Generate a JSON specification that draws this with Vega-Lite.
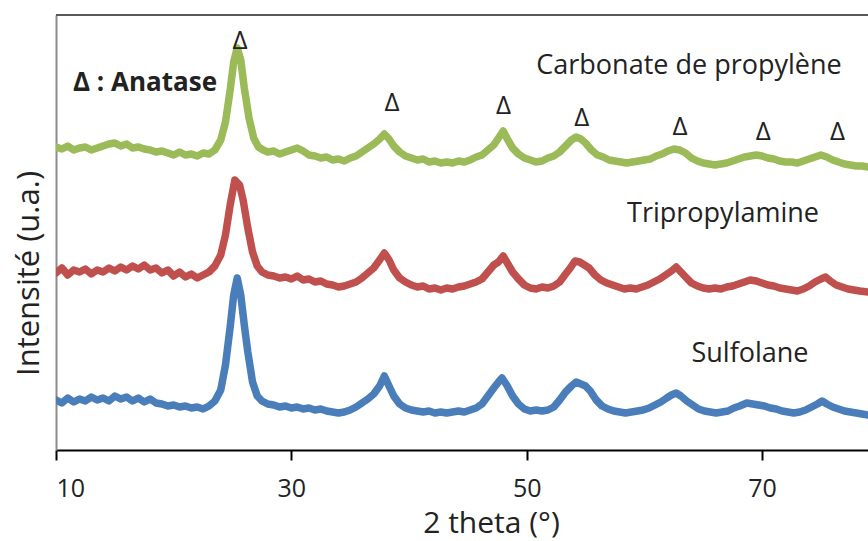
{
"$schema":"https://vega.github.io/schema/vega-lite/v6.json",
"width":812,"height":435,
"autosize":{"type":"none"},
"padding":{"left":56,"top":15,"right":0,"bottom":91},
"config":{"view":{"stroke":null},"font":"Open Sans","axis":{"grid":false}},
"datasets":{
"g":[[10,303],[10.5,301],[11,304],[11.5,300],[12,302],[12.5,303],[13,300],[13.5,302],[14,304],[14.5,306],[15,307],[15.5,304],[16,306],[16.5,302],[17,303],[17.5,301],[18,300],[18.5,298],[19,299],[19.5,297],[20,295],[20.5,298],[21,295],[21.5,296],[22,294],[22.5,297],[23,296],[23.5,300],[24,310],[24.4,328],[24.8,360],[25.1,388],[25.4,402],[25.7,390],[26,362],[26.4,332],[26.8,312],[27.2,303],[27.6,300],[28,298],[28.5,299],[29,296],[29.5,298],[30,300],[30.5,302],[31,299],[31.5,295],[32,294],[32.5,292],[33,293],[33.5,290],[34,291],[34.5,289],[35,292],[35.5,294],[36,298],[36.5,302],[37,306],[37.5,311],[37.9,316],[38.3,311],[38.7,304],[39.2,298],[39.7,294],[40.2,292],[40.7,290],[41.2,291],[41.7,288],[42.2,289],[42.7,287],[43.2,288],[43.7,287],[44.2,289],[44.7,288],[45.2,290],[45.7,293],[46.2,295],[46.7,300],[47.2,305],[47.6,312],[48,319],[48.4,310],[48.8,302],[49.3,296],[49.8,292],[50.3,290],[50.8,288],[51.3,289],[51.8,292],[52.3,294],[52.8,298],[53.3,304],[53.8,310],[54.2,313],[54.6,311],[55,307],[55.5,300],[56,295],[56.5,293],[57,290],[57.5,289],[58,288],[58.5,287],[59,288],[59.5,289],[60,290],[60.5,291],[61,294],[61.5,296],[62,299],[62.5,301],[63,300],[63.5,297],[64,292],[64.5,289],[65,287],[65.5,286],[66,285],[66.5,286],[67,287],[67.5,289],[68,291],[68.5,293],[69,294],[69.5,295],[70,294],[70.5,292],[71,291],[71.5,289],[72,288],[72.5,288],[73,287],[73.5,289],[74,291],[74.5,293],[75,295],[75.5,293],[76,290],[76.5,288],[77,286],[77.5,285],[78,284],[78.5,284],[79,283]],
"r":[[10,177],[10.5,182],[11,175],[11.5,180],[12,178],[12.5,181],[13,176],[13.5,180],[14,178],[14.5,182],[15,179],[15.5,183],[16,180],[16.5,184],[17,181],[17.5,185],[18,180],[18.5,182],[19,177],[19.5,180],[20,174],[20.5,178],[21,173],[21.5,176],[22,172],[22.5,175],[23,178],[23.5,184],[24,195],[24.4,215],[24.8,245],[25.2,270],[25.6,265],[25.9,250],[26.3,222],[26.7,198],[27.1,184],[27.5,178],[28,175],[28.5,174],[29,172],[29.5,173],[30,171],[30.5,174],[31,170],[31.5,171],[32,168],[32.5,169],[33,166],[33.5,165],[34,163],[34.5,164],[35,166],[35.5,168],[36,172],[36.5,177],[37,182],[37.5,190],[37.9,197],[38.3,190],[38.7,180],[39.2,172],[39.7,168],[40.2,165],[40.7,163],[41.2,164],[41.7,161],[42.2,162],[42.7,160],[43.2,162],[43.7,161],[44.2,163],[44.7,164],[45.2,166],[45.7,168],[46.2,171],[46.7,178],[47.2,185],[47.6,188],[48,194],[48.4,186],[48.8,178],[49.3,171],[49.8,165],[50.3,162],[50.8,161],[51.3,163],[51.8,162],[52.3,164],[52.8,168],[53.3,176],[53.7,182],[54.1,189],[54.5,188],[54.9,185],[55.3,182],[55.8,175],[56.3,170],[56.8,167],[57.3,165],[57.8,163],[58.3,161],[58.8,162],[59.3,161],[59.8,163],[60.3,165],[60.8,168],[61.3,171],[61.8,175],[62.3,179],[62.7,183],[63.1,178],[63.5,173],[64,167],[64.5,164],[65,162],[65.5,161],[66,162],[66.5,161],[67,163],[67.5,164],[68,166],[68.5,168],[69,170],[69.5,169],[70,167],[70.5,165],[71,164],[71.5,162],[72,161],[72.5,160],[73,159],[73.5,161],[74,164],[74.5,168],[75,171],[75.4,173],[75.8,169],[76.3,165],[76.8,163],[77.3,161],[77.8,160],[78.3,159],[79,158]],
"b":[[10,50],[10.5,47],[11,52],[11.5,48],[12,51],[12.5,49],[13,53],[13.5,50],[14,52],[14.5,49],[15,54],[15.5,51],[16,53],[16.5,49],[17,52],[17.5,48],[18,51],[18.5,47],[19,46],[19.5,44],[20,45],[20.5,43],[21,44],[21.5,42],[22,43],[22.5,41],[23,44],[23.5,49],[24,60],[24.4,85],[24.8,123],[25.1,155],[25.4,172],[25.7,155],[26,125],[26.3,98],[26.7,68],[27.1,54],[27.5,49],[28,46],[28.5,45],[29,43],[29.5,44],[30,42],[30.5,43],[31,41],[31.5,42],[32,40],[32.5,41],[33,39],[33.5,38],[34,37],[34.5,38],[35,40],[35.5,43],[36,47],[36.5,51],[37,56],[37.5,64],[37.9,74],[38.3,64],[38.7,54],[39.2,46],[39.7,42],[40.2,40],[40.7,39],[41.2,38],[41.7,39],[42.2,37],[42.7,38],[43.2,37],[43.7,38],[44.2,39],[44.7,38],[45.2,40],[45.7,42],[46.2,46],[46.7,54],[47.2,62],[47.6,68],[47.9,72],[48.3,65],[48.8,54],[49.3,46],[49.8,41],[50.3,39],[50.8,40],[51.3,39],[51.8,40],[52.3,43],[52.8,50],[53.3,58],[53.8,64],[54.2,68],[54.6,66],[55,64],[55.4,59],[55.9,50],[56.4,44],[56.9,41],[57.4,39],[57.9,38],[58.4,37],[58.9,38],[59.4,39],[59.9,40],[60.4,42],[60.9,45],[61.4,48],[61.9,52],[62.3,55],[62.7,57],[63.1,54],[63.6,49],[64.1,45],[64.6,41],[65.1,39],[65.6,38],[66.1,37],[66.6,38],[67.1,39],[67.6,42],[68.1,44],[68.7,47],[69.2,46],[69.7,45],[70.2,44],[70.7,42],[71.2,41],[71.7,39],[72.2,38],[72.7,37],[73.2,38],[73.7,40],[74.2,43],[74.7,46],[75.1,49],[75.5,46],[76,43],[76.5,41],[77,39],[77.5,38],[78,37],[78.5,36],[79,35]]
},
"layer":[
{"data":{"values":[{"y":435}]},"mark":{"type":"rule","color":"#595959","strokeWidth":2},"encoding":{"y":{"field":"y","type":"quantitative","scale":{"domain":[0,435]}}}},
{"data":{"name":"g"},"transform":[{"calculate":"'Carbonate de propylène'","as":"s"},{"calculate":"datum[0]","as":"x"},{"calculate":"datum[1]","as":"y"}],
 "mark":{"type":"line","strokeWidth":7.5,"clip":true,"strokeJoin":"round","strokeCap":"round"},
 "encoding":{"x":{"field":"x","type":"quantitative"},"y":{"field":"y","type":"quantitative"},"color":{"field":"s","type":"nominal","scale":{"domain":["Carbonate de propylène","Tripropylamine","Sulfolane"],"range":["#9BBB59","#C0504D","#4A7EBB"]},"legend":null}}},
{"data":{"name":"r"},"transform":[{"calculate":"'Tripropylamine'","as":"s"},{"calculate":"datum[0]","as":"x"},{"calculate":"datum[1]","as":"y"}],
 "mark":{"type":"line","strokeWidth":7.5,"clip":true,"strokeJoin":"round","strokeCap":"round"},
 "encoding":{"x":{"field":"x","type":"quantitative"},"y":{"field":"y","type":"quantitative"},"color":{"field":"s","type":"nominal","legend":null}}},
{"data":{"name":"b"},"transform":[{"calculate":"'Sulfolane'","as":"s"},{"calculate":"datum[0]","as":"x"},{"calculate":"datum[1]","as":"y"}],
 "mark":{"type":"line","strokeWidth":7.5,"clip":true,"strokeJoin":"round","strokeCap":"round"},
 "encoding":{"x":{"field":"x","type":"quantitative","scale":{"domain":[10,79],"nice":false,"zero":false},
   "axis":{"values":[10,30,50,70],"tickSize":10,"tickWidth":2,"tickColor":"#000","domainColor":"#000","domainWidth":2,"labelFontSize":25,"labelColor":"#222","labelPadding":16,"title":"2 theta (°)","titleFontSize":30,"titleFontWeight":"normal","titleColor":"#222","titleY":73,"titleX":435,"titleBaseline":"middle"}},
  "y":{"field":"y","type":"quantitative","scale":{"domain":[0,435],"nice":false},
   "axis":{"labels":false,"ticks":false,"domainColor":"#8c8c8c","domainWidth":2,"title":"Intensité (u.a.)","titleFontSize":31,"titleFontWeight":"normal","titleColor":"#222","titleX":-27,"titleY":258,"titleAngle":-90,"titleBaseline":"middle","titleAlign":"center"}},
  "color":{"field":"s","type":"nominal","legend":null}}},
{"data":{"values":[{"t":"Δ","x":25.64,"y":409},{"t":"Δ","x":38.55,"y":347},{"t":"Δ","x":48.03,"y":344},{"t":"Δ","x":54.67,"y":332},{"t":"Δ","x":63.03,"y":323},{"t":"Δ","x":70.1,"y":318},{"t":"Δ","x":76.42,"y":318}]},
 "mark":{"type":"text","fontSize":26,"color":"#222","align":"center","baseline":"middle"},
 "encoding":{"x":{"field":"x","type":"quantitative"},"y":{"field":"y","type":"quantitative"},"text":{"field":"t"}}},
{"data":{"values":[{"t":"Carbonate de propylène","x":63.79,"y":384},{"t":"Tripropylamine","x":66.68,"y":236},{"t":"Sulfolane","x":68.97,"y":96}]},
 "mark":{"type":"text","fontSize":27,"color":"#222","align":"center","baseline":"middle"},
 "encoding":{"x":{"field":"x","type":"quantitative"},"y":{"field":"y","type":"quantitative"},"text":{"field":"t"}}},
{"data":{"values":[{"t":"Δ : Anatase","x":17.56,"y":367}]},
 "mark":{"type":"text","fontSize":26,"fontWeight":"bold","color":"#222","align":"center","baseline":"middle"},
 "encoding":{"x":{"field":"x","type":"quantitative"},"y":{"field":"y","type":"quantitative"},"text":{"field":"t"}}}
]
}
